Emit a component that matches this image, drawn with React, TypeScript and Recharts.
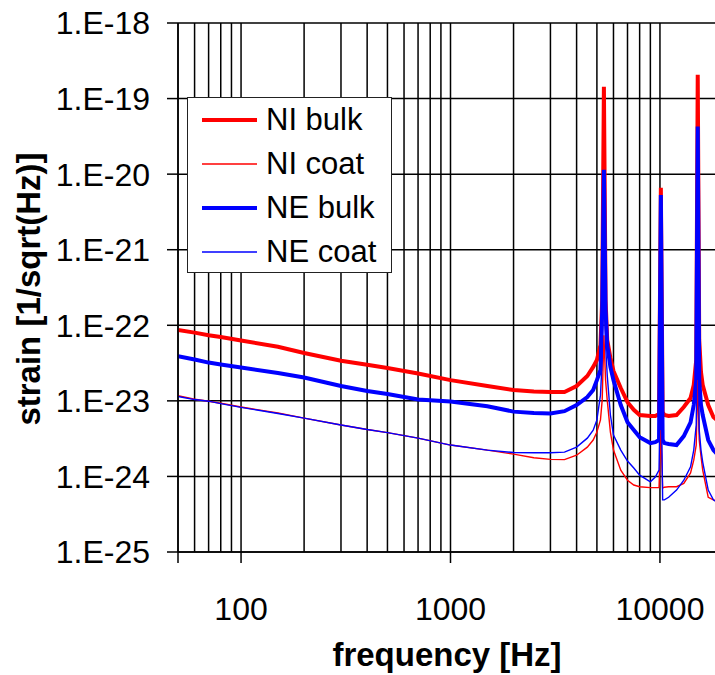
import React from 'react';
import { LineChart, Line, XAxis, YAxis, CartesianGrid } from 'recharts';

const frequencies = [
  50, 60, 70, 80, 100, 150, 200, 300, 400, 500,
  700, 1000, 1500, 2000, 2500, 3000, 3500, 4000, 4500, 4800,
  5000, 5200, 5300, 5400, 5500, 5600, 5800, 6000, 6500, 7000,
  7500, 8000, 9000, 9500, 9900, 10100, 10300, 10500, 11000, 12000,
  13000, 14000, 14500, 14900, 15150, 15400, 15700, 16000, 17000, 18000,
  20000,
];

const niBulk = [
  8.7e-23, 8.0e-23, 7.4e-23, 7.0e-23, 6.3e-23, 5.2e-23, 4.3e-23, 3.4e-23, 3.0e-23, 2.72e-23,
  2.3e-23, 1.88e-23, 1.57e-23, 1.39e-23, 1.33e-23, 1.31e-23, 1.31e-23, 1.57e-23, 2.13e-23, 2.81e-23,
  3.47e-23, 5.5e-23, 2.16e-22, 1.43e-19, 2.16e-22, 6.4e-23, 3.7e-23, 2.48e-23, 1.48e-23, 9.6e-24,
  7.6e-24, 6.5e-24, 6.3e-24, 6.3e-24, 6.7e-24, 6.6e-21, 7.1e-24, 6.5e-24, 6.3e-24, 6.5e-24,
  8.3e-24, 1.09e-23, 1.62e-23, 3.47e-23, 2.07e-19, 6.4e-23, 2.41e-23, 1.62e-23, 8.8e-24, 6.1e-24,
  4.8e-24,
];

const neBulk = [
  3.9e-23, 3.52e-23, 3.21e-23, 3.03e-23, 2.76e-23, 2.33e-23, 2.04e-23, 1.57e-23, 1.35e-23, 1.23e-23,
  1.04e-23, 9.8e-24, 8.5e-24, 7.2e-24, 6.9e-24, 6.8e-24, 7.3e-24, 8.8e-24, 1.12e-23, 1.39e-23,
  1.88e-23, 2.56e-23, 1.6e-22, 1.14e-20, 1.6e-22, 5.5e-23, 2.81e-23, 1.88e-23, 8.8e-24, 5.2e-24,
  4.1e-24, 3.31e-24, 2.76e-24, 2.84e-24, 3.03e-24, 5.3e-21, 3.03e-24, 2.76e-24, 2.68e-24, 2.6e-24,
  3.42e-24, 5.2e-24, 8.8e-24, 1.88e-23, 4.27e-20, 1.88e-23, 8.8e-24, 6.5e-24, 3.03e-24, 2.23e-24,
  1.64e-24,
];

const niCoat = [
  1.17e-23, 1.05e-23, 9.9e-24, 9.3e-24, 8.3e-24, 6.9e-24, 5.9e-24, 4.8e-24, 4.17e-24, 3.8e-24,
  3.21e-24, 2.6e-24, 2.23e-24, 1.97e-24, 1.77e-24, 1.68e-24, 1.67e-24, 1.91e-24, 2.44e-24, 3.03e-24,
  3.86e-24, 5.6e-24, 1.03e-23, 7.4e-23, 1.88e-23, 1.03e-23, 3.86e-24, 2.23e-24, 1.21e-24, 8.9e-25,
  7.7e-25, 7.3e-25, 7.1e-25, 7.1e-25, 7.1e-25, 4.1e-24, 7.0e-25, 7.2e-25, 7.3e-25, 7.3e-25,
  8.1e-25, 1.11e-24, 1.64e-24, 2.6e-24, 1.88e-23, 3.03e-24, 1.86e-24, 1.21e-24, 5.3e-25, 4.9e-25,
  4.4e-25,
];

const neCoat = [
  1.14e-23, 1.04e-23, 9.9e-24, 9.2e-24, 8.2e-24, 6.8e-24, 5.9e-24, 4.8e-24, 4.17e-24, 3.8e-24,
  3.21e-24, 2.6e-24, 2.23e-24, 2.07e-24, 2.06e-24, 2.06e-24, 2.1e-24, 2.44e-24, 3.21e-24, 4.1e-24,
  5.6e-24, 1.19e-23, 3.47e-23, 7.3e-22, 5.5e-23, 2.2e-23, 6.5e-24, 3.52e-24, 2.23e-24, 1.6e-24,
  1.29e-24, 1.04e-24, 8.5e-25, 9.8e-25, 1.21e-24, 3.47e-23, 4.9e-25, 4.9e-25, 5.3e-25, 6.6e-25,
  8.9e-25, 1.34e-24, 2.23e-24, 4.8e-24, 2.16e-22, 4.1e-24, 2.23e-24, 1.55e-24, 6.6e-25, 4.9e-25,
  4.05e-25,
];

const yTicks = [1e-25, 1e-24, 1e-23, 1e-22, 1e-21, 1e-20, 1e-19, 1e-18];
const xTicks = [50, 100, 1000, 10000];
const xTickLabels: Record<number, string> = { 50: '', 100: '100', 1000: '1000', 10000: '10000' };
const gridFrequencies = [
  50, 60, 70, 80, 90,
  100, 200, 300, 400, 500, 600, 700, 800, 900,
  1000, 2000, 3000, 4000, 5000, 6000, 7000, 8000, 9000,
  10000, 20000,
];

const xTitle = 'frequency [Hz]';
const yTitle = 'strain [1/sqrt(Hz)]';

const series = [
  { key: 'niBulk', name: 'NI bulk', color: '#ff0000', width: 4 },
  { key: 'niCoat', name: 'NI coat', color: '#ff0000', width: 1.4 },
  { key: 'neBulk', name: 'NE bulk', color: '#0000ff', width: 4 },
  { key: 'neCoat', name: 'NE coat', color: '#0000ff', width: 1.4 },
];
const drawOrder = ['niBulk', 'neBulk', 'niCoat', 'neCoat'];

const data = frequencies.map((f, i) => ({
  f,
  niBulk: niBulk[i],
  niCoat: niCoat[i],
  neBulk: neBulk[i],
  neCoat: neCoat[i],
}));

const FONT = "'Liberation Sans', Arial, sans-serif";

const formatY = (v: number) => '1.E' + Math.round(Math.log10(v));

export default function App() {
  return (
    <div
      style={{
        position: 'absolute',
        left: 0,
        top: 0,
        width: 715,
        height: 675,
        overflow: 'hidden',
        background: '#fff',
        fontFamily: FONT,
      }}
    >
      <LineChart
        width={745}
        height={675}
        data={data}
        margin={{ top: 23, right: 22, bottom: 0, left: 8 }}
      >
        <CartesianGrid
          stroke="#000"
          strokeWidth={1.5}
          verticalValues={gridFrequencies}
          horizontalValues={yTicks}
        />
        <XAxis
          dataKey="f"
          type="number"
          scale="log"
          domain={[50, 20000]}
          allowDataOverflow
          ticks={xTicks}
          tickFormatter={(v: number) => xTickLabels[v] ?? ''}
          height={123}
          tickSize={11}
          tickMargin={34}
          stroke="#000"
          tick={{ fill: '#000', fontSize: 32, fontFamily: FONT }}
          axisLine={{ stroke: '#000', strokeWidth: 1.5 }}
          tickLine={{ stroke: '#000', strokeWidth: 1.5 }}
          interval={0}
        />
        <YAxis
          type="number"
          scale="log"
          domain={[1e-25, 1e-18]}
          allowDataOverflow
          ticks={yTicks}
          tickFormatter={formatY}
          width={170}
          tickSize={11}
          tickMargin={17}
          stroke="#000"
          tick={{ fill: '#000', fontSize: 32, fontFamily: FONT }}
          axisLine={{ stroke: '#000', strokeWidth: 1.5 }}
          tickLine={{ stroke: '#000', strokeWidth: 1.5 }}
          interval={0}
        />
        {drawOrder.map((k) => {
          const s = series.find((x) => x.key === k)!;
          return (
            <Line
              key={s.key}
              dataKey={s.key}
              name={s.name}
              type="linear"
              stroke={s.color}
              strokeWidth={s.width}
              dot={false}
              activeDot={false}
              isAnimationActive={false}
            />
          );
        })}
      </LineChart>
      <svg
        width={715}
        height={675}
        style={{ position: 'absolute', left: 0, top: 0, pointerEvents: 'none' }}
      >
        <text
          x={447}
          y={666}
          textAnchor="middle"
          fontSize={33}
          fontWeight="bold"
          fontFamily={FONT}
          fill="#000"
        >
          {xTitle}
        </text>
        <text
          x={40}
          y={289}
          textAnchor="middle"
          fontSize={33}
          fontWeight="bold"
          fontFamily={FONT}
          fill="#000"
          transform="rotate(-90, 40, 289)"
        >
          {yTitle}
        </text>
      </svg>
      <div
        style={{
          position: 'absolute',
          left: 187,
          top: 97,
          width: 203,
          height: 174,
          border: '1.5px solid #222',
          background: '#fff',
        }}
      >
        {series.map((s) => (
          <div
            key={s.key}
            style={{ height: 44, display: 'flex', alignItems: 'center', position: 'relative' }}
          >
            <svg width={78} height={44} style={{ display: 'block' }}>
              <line x1={14} y1={22} x2={69} y2={22} stroke={s.color} strokeWidth={s.width} />
            </svg>
            <span style={{ fontSize: 31, fontFamily: FONT, color: '#000', lineHeight: '44px' }}>
              {s.name}
            </span>
          </div>
        ))}
      </div>
    </div>
  );
}
